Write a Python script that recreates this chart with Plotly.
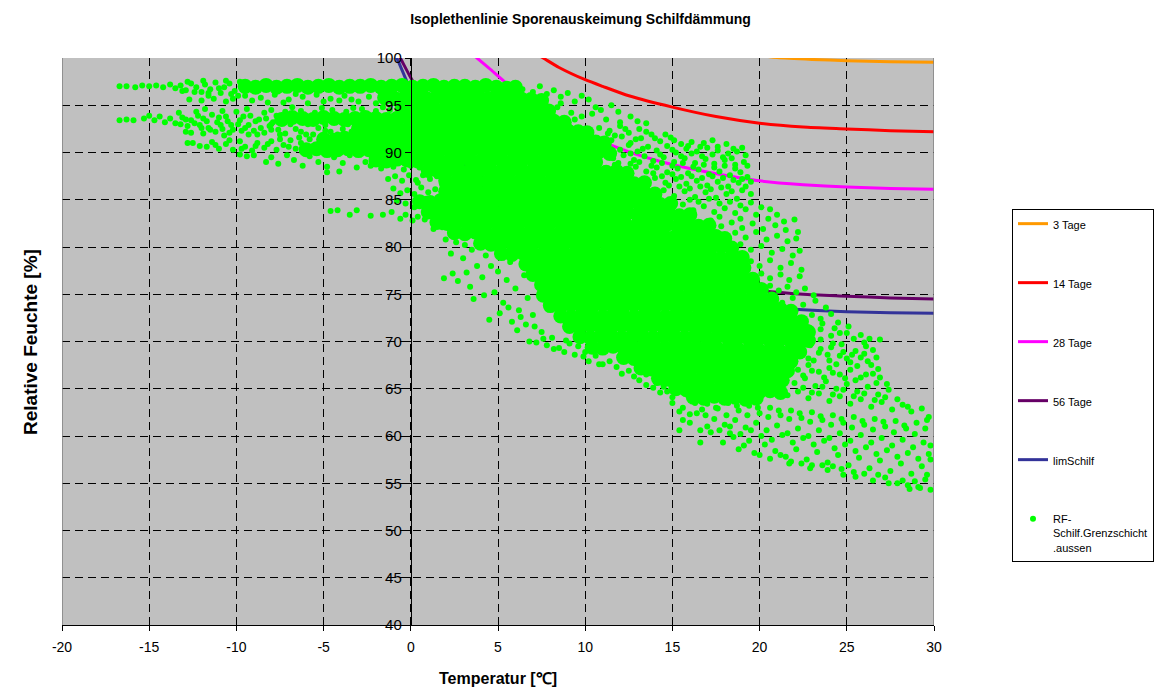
import plotly.graph_objects as go

# ---------------- isopleth curves (temperature °C, relative humidity %) ----------------
t_3d = [19.5, 21.0, 23.0, 25.0, 27.5, 30.0]
rh_3d = [100.4, 100.05, 99.85, 99.72, 99.6, 99.55]

t_14d = [7.0, 7.5, 8.5, 10.0, 11.0, 12.5, 15.0, 17.5, 20.0, 22.5, 25.0, 27.5, 30.0]
rh_14d = [100.6, 100.1, 99.0, 97.7, 97.0, 96.0, 94.8, 93.8, 93.1, 92.7, 92.5, 92.3, 92.2]

t_28d = [3.3, 3.8, 4.5, 5.5, 6.5, 7.5, 8.5, 10.0, 12.0, 14.0, 16.0, 18.0, 20.0, 22.5, 25.0, 27.5, 30.0]
rh_28d = [100.8, 100.0, 98.9, 97.3, 95.9, 94.6, 93.4, 92.0, 90.4, 89.2, 88.3, 87.6, 87.0, 86.6, 86.35, 86.2, 86.1]

t_56d = [-0.9, -0.6, 0.0, 1.0, 2.0, 3.0, 4.0, 5.0, 6.0, 7.4, 9.0, 10.9, 12.5, 14.3, 16.6, 18.5, 20.0, 22.5, 25.0, 27.5, 30.0]
rh_56d = [101.0, 100.0, 97.9, 94.7, 91.9, 89.5, 87.6, 86.0, 84.5, 82.7, 80.9, 79.5, 78.4, 77.4, 76.3, 75.8, 75.4, 75.0, 74.8, 74.6, 74.5]

t_lim = [-1.1, -0.8, 0.0, 1.0, 2.0, 3.0, 4.0, 5.0, 6.8, 9.1, 11.0, 13.0, 15.0, 16.6, 18.5, 20.0, 22.5, 25.0, 27.5, 30.0]
rh_lim = [101.0, 100.0, 96.6, 93.6, 91.0, 88.7, 86.7, 85.0, 82.2, 79.5, 77.9, 76.6, 75.5, 74.7, 74.1, 73.7, 73.35, 73.15, 73.05, 73.0]

# ---------------- measured boundary-layer values (temperature, RH) ----------------
# densely populated part of the cloud
dense_pts = [
    (-9.5,97.0),(-8.9,96.9),(-8.3,97.1),(-7.7,96.9),(-7.1,97.0),(-6.5,97.1),(-5.9,96.9),(-5.3,97.0),(-4.7,97.1),(-4.1,96.9),(-3.5,97.0),(-2.9,97.0),(-2.3,97.1),(-1.7,96.9),(-1.1,97.0),(-0.5,97.1),(0.1,96.9),(0.7,97.0),(1.3,97.1),(1.9,96.9),(2.5,97.0),(3.1,97.0),(3.7,96.9),(4.3,97.1),(4.9,96.9),(5.5,96.8),(6.0,96.9),
    (-1.5,95.8),(-0.9,95.7),(-0.3,95.9),(0.3,95.8),(0.9,95.7),(1.5,95.9),(2.1,95.8),(2.7,95.7),(3.3,95.8),(3.9,95.9),(4.5,95.7),(5.1,95.8),(5.7,95.9),(6.3,95.7),(6.9,95.6),(7.5,95.5),
    (-0.5,94.7),(0.1,94.6),(0.7,94.8),(1.3,94.7),(1.9,94.6),(2.5,94.7),(3.1,94.8),(3.7,94.6),(4.3,94.7),(4.9,94.8),(5.5,94.6),(6.1,94.7),(6.7,94.6),(7.3,94.5),(7.9,94.4),
    (-7.4,93.5),(-6.8,93.7),(-6.2,93.6),(-5.6,93.5),(-5.0,93.7),(-4.4,93.6),(-3.8,93.5),(-3.2,93.6),(-2.6,93.7),(-2.0,93.6),(-1.4,93.5),(-0.8,93.6),(-0.2,93.7),(0.4,93.6),(1.0,93.5),(1.6,93.6),(2.2,93.7),(2.8,93.6),(3.4,93.5),(4.0,93.6),(4.6,93.7),(5.2,93.5),(5.8,93.6),(6.4,93.5),(7.0,93.4),(7.6,93.5),(8.2,93.3),(8.8,93.2),
    (-3.0,92.5),(-2.4,92.4),(-1.8,92.6),(-1.2,92.5),(-0.6,92.4),(0.0,92.6),(0.6,92.5),(1.2,92.4),(1.8,92.6),(2.4,92.5),(3.0,92.4),(3.6,92.6),(4.2,92.5),(4.8,92.4),(5.4,92.6),(6.0,92.5),(6.6,92.4),(7.2,92.6),(7.8,92.5),(8.4,92.4),(9.0,92.3),(9.6,92.2),(10.1,92.1),
    (-5.0,91.4),(-4.4,91.3),(-3.8,91.5),(-3.2,91.4),(-2.6,91.3),(-2.0,91.5),(-1.4,91.4),(-0.8,91.3),(-0.2,91.5),(0.4,91.4),(1.0,91.3),(1.6,91.5),(2.2,91.4),(2.8,91.3),(3.4,91.5),(4.0,91.4),(4.6,91.3),(5.2,91.5),(5.8,91.4),(6.4,91.3),(7.0,91.5),(7.6,91.4),(8.2,91.3),(8.8,91.4),(9.4,91.2),(10.0,91.3),(10.6,91.1),(11.1,91.0),
    (-6.0,90.3),(-5.4,90.4),(-4.8,90.2),(-4.2,90.3),(-3.6,90.4),(-3.0,90.2),(-2.4,90.3),(-1.8,90.4),(-1.2,90.2),(-0.6,90.3),(0.0,90.4),(0.6,90.2),(1.2,90.3),(1.8,90.4),(2.4,90.2),(3.0,90.3),(3.6,90.4),(4.2,90.2),(4.8,90.3),(5.4,90.4),(6.0,90.2),(6.6,90.3),(7.2,90.4),(7.8,90.2),(8.4,90.3),(9.0,90.1),(9.6,90.2),(10.2,90.0),(10.8,90.1),(11.4,89.9),
    (-2.0,89.2),(-1.4,89.1),(-0.8,89.3),(-0.2,89.2),(0.4,89.1),(1.0,89.3),(1.6,89.2),(2.2,89.1),(2.8,89.3),(3.4,89.2),(4.0,89.1),(4.6,89.3),(5.2,89.2),(5.8,89.1),(6.4,89.3),(7.0,89.2),(7.6,89.1),(8.2,89.2),(8.8,89.0),(9.4,89.1),(10.0,88.9),(10.6,89.0),
    (1.0,88.1),(1.6,88.0),(2.2,88.2),(2.8,88.1),(3.4,88.0),(4.0,88.2),(4.6,88.1),(5.2,88.0),(5.8,88.2),(6.4,88.1),(7.0,88.0),(7.6,88.2),(8.2,88.1),(8.8,87.9),(9.4,88.0),(10.0,87.8),(10.6,88.0),(11.2,87.9),(11.8,88.0),(12.4,87.8),
    (2.0,87.0),(2.6,86.9),(3.2,87.1),(3.8,87.0),(4.4,86.9),(5.0,87.1),(5.6,87.0),(6.2,86.9),(6.8,87.1),(7.4,87.0),(8.0,86.9),(8.6,87.0),(9.2,86.8),(9.8,86.9),(10.4,86.7),(11.0,86.9),(11.6,86.8),(12.2,86.9),(12.8,86.7),(13.4,86.8),
    (2.0,85.9),(2.6,85.8),(3.2,86.0),(3.8,85.9),(4.4,85.8),(5.0,86.0),(5.6,85.9),(6.2,85.8),(6.8,86.0),(7.4,85.9),(8.0,85.8),(8.6,85.9),(9.2,85.7),(9.8,85.8),(10.4,85.6),(11.0,85.8),(11.6,85.7),(12.2,85.8),(12.8,85.6),(13.4,85.7),(14.0,85.6),
    (0.5,84.8),(1.1,84.7),(1.7,84.9),(2.3,84.8),(2.9,84.7),(3.5,84.9),(4.1,84.8),(4.7,84.7),(5.3,84.9),(5.9,84.8),(6.5,84.7),(7.1,84.9),(7.7,84.8),(8.3,84.7),(8.9,84.8),(9.5,84.6),(10.1,84.7),(10.7,84.5),(11.3,84.7),(11.9,84.6),(12.5,84.7),(13.1,84.5),(13.7,84.6),(14.3,84.5),(14.9,84.6),
    (1.0,83.7),(1.6,83.6),(2.2,83.8),(2.8,83.7),(3.4,83.6),(4.0,83.8),(4.6,83.7),(5.2,83.6),(5.8,83.8),(6.4,83.7),(7.0,83.6),(7.6,83.8),(8.2,83.7),(8.8,83.6),(9.4,83.7),(10.0,83.5),(10.6,83.6),(11.2,83.4),(11.8,83.5),(12.4,83.6),(13.0,83.4),(13.6,83.5),(14.2,83.4),(14.8,83.5),(15.4,83.3),(16.0,83.4),
    (1.5,82.6),(2.1,82.5),(2.7,82.7),(3.3,82.6),(3.9,82.5),(4.5,82.7),(5.1,82.6),(5.7,82.5),(6.3,82.7),(6.9,82.6),(7.5,82.5),(8.1,82.7),(8.7,82.6),(9.3,82.5),(9.9,82.6),(10.5,82.4),(11.1,82.5),(11.7,82.3),(12.3,82.4),(12.9,82.2),(13.5,82.4),(14.1,82.3),(14.7,82.4),(15.3,82.2),(15.9,82.3),(16.5,82.2),(17.1,82.3),
    (2.5,81.5),(3.1,81.4),(3.7,81.6),(4.3,81.5),(4.9,81.4),(5.5,81.6),(6.1,81.5),(6.7,81.4),(7.3,81.6),(7.9,81.5),(8.5,81.4),(9.1,81.6),(9.7,81.5),(10.3,81.4),(10.9,81.5),(11.5,81.3),(12.1,81.4),(12.7,81.2),(13.3,81.3),(13.9,81.1),(14.5,81.2),(15.1,81.0),(15.7,81.1),(16.3,81.2),(16.9,81.0),(17.5,81.1),(18.0,80.9),
    (4.0,80.4),(4.6,80.3),(5.2,80.5),(5.8,80.4),(6.4,80.3),(7.0,80.5),(7.6,80.4),(8.2,80.3),(8.8,80.5),(9.4,80.4),(10.0,80.3),(10.6,80.5),(11.2,80.4),(11.8,80.3),(12.4,80.4),(13.0,80.2),(13.6,80.3),(14.2,80.1),(14.8,80.2),(15.4,80.0),(16.0,80.1),(16.6,79.9),(17.2,80.0),(17.8,80.1),(18.4,79.9),
    (5.2,79.3),(5.8,79.2),(6.4,79.4),(7.0,79.3),(7.6,79.2),(8.2,79.4),(8.8,79.3),(9.4,79.2),(10.0,79.4),(10.6,79.3),(11.2,79.2),(11.8,79.4),(12.4,79.3),(13.0,79.2),(13.6,79.3),(14.2,79.1),(14.8,79.2),(15.4,79.0),(16.0,79.1),(16.6,78.9),(17.2,79.0),(17.8,78.8),(18.4,79.0),(19.0,78.9),
    (6.6,78.2),(7.2,78.1),(7.8,78.3),(8.4,78.2),(9.0,78.1),(9.6,78.3),(10.2,78.2),(10.8,78.1),(11.4,78.3),(12.0,78.2),(12.6,78.1),(13.2,78.3),(13.8,78.2),(14.4,78.1),(15.0,78.2),(15.6,78.0),(16.2,78.1),(16.8,77.9),(17.4,78.0),(18.0,77.8),(18.5,77.9),(19.1,77.8),
    (7.0,77.1),(7.6,77.0),(8.2,77.2),(8.8,77.1),(9.4,77.0),(10.0,77.2),(10.6,77.1),(11.2,77.0),(11.8,77.2),(12.4,77.1),(13.0,77.0),(13.6,77.2),(14.2,77.1),(14.8,77.0),(15.4,77.1),(16.0,76.9),(16.6,77.0),(17.2,76.8),(17.8,76.9),(18.4,76.7),(19.0,76.8),(19.6,76.6),
    (7.5,76.0),(8.1,75.9),(8.7,76.1),(9.3,76.0),(9.9,75.9),(10.5,76.1),(11.1,76.0),(11.7,75.9),(12.3,76.1),(12.9,76.0),(13.5,75.9),(14.1,76.1),(14.7,76.0),(15.3,75.9),(15.9,76.0),(16.5,75.8),(17.1,75.9),(17.7,75.7),(18.3,75.8),(18.9,75.6),(19.5,75.7),(20.1,75.5),
    (7.6,74.9),(8.2,74.8),(8.8,75.0),(9.4,74.9),(10.0,74.8),(10.6,75.0),(11.2,74.9),(11.8,74.8),(12.4,75.0),(13.0,74.9),(13.6,74.8),(14.2,75.0),(14.8,74.9),(15.4,74.8),(16.0,74.9),(16.6,74.7),(17.2,74.8),(17.8,74.6),(18.4,74.7),(19.0,74.5),(19.6,74.6),(20.1,74.4),(20.7,74.5),
    (8.0,73.8),(8.6,73.7),(9.2,73.9),(9.8,73.8),(10.4,73.7),(11.0,73.9),(11.6,73.8),(12.2,73.7),(12.8,73.9),(13.4,73.8),(14.0,73.7),(14.6,73.9),(15.2,73.8),(15.8,73.7),(16.4,73.8),(17.0,73.6),(17.6,73.7),(18.2,73.5),(18.8,73.6),(19.4,73.4),(20.0,73.5),(20.6,73.3),(21.2,73.4),(21.8,73.2),
    (8.6,72.7),(9.2,72.6),(9.8,72.8),(10.4,72.7),(11.0,72.6),(11.6,72.8),(12.2,72.7),(12.8,72.6),(13.4,72.8),(14.0,72.7),(14.6,72.6),(15.2,72.8),(15.8,72.7),(16.4,72.6),(17.0,72.7),(17.6,72.5),(18.2,72.6),(18.8,72.4),(19.4,72.5),(20.0,72.3),(20.6,72.4),(21.2,72.2),(21.8,72.3),(22.4,72.1),
    (9.1,71.6),(9.7,71.5),(10.3,71.7),(10.9,71.6),(11.5,71.5),(12.1,71.7),(12.7,71.6),(13.3,71.5),(13.9,71.7),(14.5,71.6),(15.1,71.5),(15.7,71.7),(16.3,71.6),(16.9,71.5),(17.5,71.6),(18.1,71.4),(18.7,71.5),(19.3,71.3),(19.9,71.4),(20.5,71.2),(21.1,71.3),(21.7,71.1),(22.3,71.2),(22.8,71.0),
    (9.7,70.5),(10.3,70.4),(10.9,70.6),(11.5,70.5),(12.1,70.4),(12.7,70.6),(13.3,70.5),(13.9,70.4),(14.5,70.6),(15.1,70.5),(15.7,70.4),(16.3,70.6),(16.9,70.5),(17.5,70.4),(18.1,70.5),(18.7,70.3),(19.3,70.4),(19.9,70.2),(20.5,70.3),(21.1,70.1),(21.7,70.2),(22.3,70.0),(22.8,70.1),
    (10.4,69.4),(11.0,69.3),(11.6,69.5),(12.2,69.4),(12.8,69.3),(13.4,69.5),(14.0,69.4),(14.6,69.3),(15.2,69.5),(15.8,69.4),(16.4,69.3),(17.0,69.4),(17.6,69.2),(18.2,69.3),(18.8,69.1),(19.4,69.2),(20.0,69.0),(20.6,69.1),(21.2,68.9),(21.8,69.0),(22.3,68.9),
    (12.2,68.3),(12.8,68.2),(13.4,68.4),(14.0,68.3),(14.6,68.2),(15.2,68.4),(15.8,68.3),(16.4,68.2),(17.0,68.3),(17.6,68.1),(18.2,68.2),(18.8,68.0),(19.4,68.1),(20.0,67.9),(20.6,68.0),(21.2,67.8),(21.8,67.9),
    (13.2,67.2),(13.8,67.1),(14.4,67.3),(15.0,67.2),(15.6,67.1),(16.2,67.3),(16.8,67.2),(17.4,67.1),(18.0,67.2),(18.6,67.0),(19.2,67.1),(19.8,66.9),(20.4,67.0),(21.0,66.8),(21.6,66.9),
    (14.2,66.1),(14.8,66.0),(15.4,66.2),(16.0,66.1),(16.6,66.0),(17.2,66.2),(17.8,66.1),(18.4,66.0),(19.0,66.1),(19.6,65.9),(20.2,66.0),(20.7,65.8),(21.3,65.9),
    (15.2,65.0),(15.8,64.9),(16.4,65.1),(17.0,65.0),(17.6,64.9),(18.2,65.0),(18.8,64.8),(19.4,64.9),(20.0,64.7),(20.6,64.8),(21.2,64.6),
    (16.2,64.1),(16.8,64.0),(17.4,64.2),(18.0,64.0),(18.6,64.1),(19.2,63.9),(19.8,64.0),
]

# frost period: long horizontal streaks at high humidity
cold_pts = [
    (-16.7,97.0),(-16.3,97.0),(-15.8,96.9),(-15.4,97.1),(-15.0,97.0),(-14.6,97.1),(-14.2,96.9),(-13.8,97.2),(-13.5,96.8),(-13.2,97.1),(-12.9,96.6),(-12.6,97.3),(-12.3,96.9),(-12.0,96.4),(-11.8,97.2),(-11.5,96.7),(-11.2,97.4),(-10.9,96.3),(-10.7,96.9),(-10.4,97.3),(-10.1,96.5),(-9.9,96.0),
    (-13.1,96.5),(-12.8,97.5),(-12.4,96.4),(-11.9,97.6),(-11.6,96.3),(-11.0,96.8),(-10.6,97.6),(-10.3,96.2),(-9.8,97.5),
    (-12.7,95.6),(-12.0,95.5),(-11.3,95.7),(-10.6,95.4),(-9.5,96.0),(-8.6,95.8),(-7.8,96.1),(-7.0,95.6),(-6.2,95.9),(-5.4,96.1),(-4.6,95.7),(-3.8,96.0),(-3.0,95.4),(-2.4,95.9),(-8.2,95.3),(-5.9,95.2),
    (-11.6,96.0),(-10.2,95.7),(-9.1,95.5),(-7.3,95.3),(-6.6,96.2),(-5.0,95.4),(-4.1,95.5),(-3.4,95.6),(-2.0,95.2),
    (-16.7,93.4),(-16.3,93.5),(-15.9,93.4),(-15.3,93.6),(-15.0,93.9),(-14.7,93.4),(-14.4,93.8),(-14.1,93.2),(-13.8,93.6),(-13.5,93.1),(-13.3,94.2),(-13.1,93.7),(-12.8,92.8),(-12.6,93.4),(-12.3,94.3),(-12.1,92.9),(-11.9,93.6),(-11.6,92.6),(-11.4,94.0),(-11.1,93.2),(-10.8,92.5),(-10.6,93.8),(-10.3,92.9),(-10.0,94.3),(-9.8,93.4),(-9.5,92.6),(-9.2,93.9),(-9.0,92.3),(-8.7,93.5),(-8.4,94.2),(-8.1,92.8),(-7.9,93.2),(-7.6,92.4),
    (-13.2,93.0),(-12.9,93.5),(-12.4,93.1),(-12.2,93.9),(-11.7,93.3),(-11.5,92.4),(-11.0,93.7),(-10.9,92.9),(-10.5,93.3),(-10.2,92.4),(-9.9,93.0),(-9.6,93.8),(-9.3,92.9),(-8.9,93.3),(-8.6,92.6),(-8.3,93.6),(-8.0,93.0),(-7.7,93.9),
    (-12.9,92.2),(-11.9,92.0),(-10.4,92.1),(-9.3,91.9),(-8.4,92.1),(-7.2,92.0),(-6.6,92.5),(-6.0,91.9),(-5.3,92.6),(-4.6,92.2),(-3.9,92.5),(-6.9,93.0),(-5.9,93.0),(-4.9,92.9),(-3.6,93.0),
    (-12.6,92.1),(-12.0,92.6),(-11.2,92.2),(-10.7,91.8),(-9.7,92.3),(-8.8,91.9),(-8.0,92.4),(-7.5,91.9),(-6.3,92.2),(-5.6,91.9),(-4.9,92.3),(-4.2,91.9),(-3.4,92.2),
    (-7.2,94.3),(-6.3,94.4),(-5.5,94.2),(-4.5,94.5),(-3.7,94.3),(-2.8,94.6),(-2.0,94.4),(-1.2,94.5),
    (-11.8,94.6),(-10.8,94.4),(-9.4,94.6),(-8.0,94.5),(-6.8,94.8),(-5.1,94.7),(-3.3,94.7),(-1.6,94.8),
    (-12.8,91.0),(-12.5,91.0),(-11.7,90.6),(-11.4,91.1),(-11.0,90.4),(-10.6,90.9),(-10.2,90.3),(-9.8,91.2),(-9.5,90.6),(-9.1,90.2),(-8.8,91.0),(-8.4,90.5),(-8.0,91.2),(-7.7,90.3),(-7.3,90.8),(-6.9,91.3),(-6.6,90.4),(-6.3,91.0),(-5.8,91.4),
    (-12.1,90.7),(-11.2,90.8),(-10.4,91.3),(-9.7,90.4),(-8.9,90.7),(-8.2,90.9),(-7.5,91.4),(-7.0,90.6),(-6.4,91.6),(-5.7,90.6),
    (-9.8,89.8),(-9.4,89.6),(-9.0,89.7),(-8.3,89.0),(-8.0,89.5),(-7.6,88.8),(-7.1,89.7),(-6.7,89.2),(-6.2,88.6),(-5.8,89.6),(-5.3,89.0),(-4.8,88.5),(-4.4,89.5),(-3.9,88.9),(-3.5,89.7),(-3.1,88.4),(-2.6,89.0),(-2.3,88.6),(-1.7,88.3),(-1.0,88.5),(-0.4,88.2),
    (-4.8,87.9),(-4.1,88.0),(-1.3,87.2),(-0.9,87.5),(-0.5,87.0),(-0.1,87.6),(0.3,87.1),(0.7,87.6),(1.1,87.2),(1.5,87.5),
    (0.0,88.6),(0.5,88.4),(1.2,88.7),(1.8,86.6),(0.4,86.8),(1.6,85.3),(0.9,85.1),(-0.3,84.6),(0.2,84.2),(-0.8,84.9),
    (-1.0,86.2),(-0.6,85.7),(-0.2,86.0),(0.2,85.6),(0.6,86.3),(1.0,85.8),(1.4,86.1),
    (-4.6,83.8),(-4.2,83.9),(-3.5,83.4),(-3.1,83.9),(-2.3,83.3),(-1.6,83.4),(-1.1,83.7),(-0.6,83.0),(-0.3,83.4),(0.1,82.8),(0.4,83.2),(0.8,82.9),
]

# lower-left fringe of the main band
fringe_pts = [
    (0.9,84.2),(1.3,81.9),(1.8,82.1),(2.0,80.8),(2.6,80.5),(3.1,80.2),(3.5,79.7),(2.3,79.3),(3.0,78.8),(1.9,76.7),(2.4,77.2),(2.7,76.4),(3.2,77.3),(3.4,75.8),(3.8,78.0),(4.1,76.8),(4.3,79.1),(4.6,78.0),(4.8,75.2),(5.0,77.4),(5.3,74.1),(5.5,76.5),(5.7,78.4),(6.0,75.6),(6.2,73.3),(6.5,77.0),(6.7,74.6),
    (3.6,74.5),(4.2,74.9),(5.6,73.6),(6.3,72.6),(7.1,71.6),(7.6,70.3),(8.2,69.2),(8.9,70.1),(9.6,69.5),(10.0,68.9),(10.8,67.6),(12.8,66.3),(13.5,66.5),(14.1,65.6),(14.7,64.7),
    (4.5,72.3),(5.1,73.0),(5.8,72.1),(6.1,71.2),(6.6,71.8),(6.8,70.0),(7.0,72.8),(7.2,69.9),(7.5,71.0),(7.8,69.6),(8.1,70.4),(8.5,69.3),(8.8,68.9),(9.1,69.8),(9.4,68.6),(9.9,68.4),(10.2,67.9),(10.6,68.5),(11.0,67.6),(11.4,67.9),(11.8,67.3),(12.1,66.6),(12.5,66.9),(13.1,65.9),(13.5,65.4),(13.9,65.1),(14.5,65.2),(14.3,64.6),(15.0,64.1),(15.0,63.5),(15.4,62.6),(15.6,61.7),(15.4,60.6),(16.0,61.4),(16.6,60.6),(16.6,59.3),(16.4,62.4),(17.0,61.0),
]

# spring / autumn: humid values reaching above the 28-day curve
upper_pts = [
    (6.4,96.7),(7.0,96.4),(7.4,97.0),(7.8,96.2),(8.2,96.6),(8.6,95.9),(9.0,96.3),(9.4,95.4),(9.8,96.0),(10.2,95.6),(10.6,94.8),(10.9,94.5),(11.5,95.0),(11.9,94.3),(8.4,94.8),(9.2,94.2),(9.8,93.8),(10.4,94.1),(11.2,93.5),(12.0,93.2),(12.6,93.8),(13.0,93.3),(13.5,93.1),(8.6,95.2),(9.4,93.5),
    (10.8,92.6),(11.4,92.3),(12.0,92.8),(12.5,92.1),(13.1,92.5),(11.7,91.8),
    (11.3,92.0),(12.3,92.5),(12.9,91.4),(13.5,92.2),(14.0,91.5),(14.6,91.9),(15.1,91.3),(15.9,90.7),(16.8,91.0),(17.6,90.6),(18.5,90.4),
    (11.5,91.3),(12.1,91.7),(12.6,91.0),(13.2,91.5),(13.8,91.9),(14.3,91.2),(14.9,91.6),(15.5,90.9),(16.1,91.1),(16.6,90.6),(17.3,91.3),(18.1,90.9),(19.0,90.5),
    (12.0,90.3),(12.5,90.8),(13.0,90.1),(13.6,90.6),(14.1,90.2),(14.7,90.7),(15.2,90.0),(15.8,90.4),(16.4,90.1),(17.0,90.5),(17.6,90.2),(18.2,89.9),(18.7,90.1),
    (12.6,89.9),(13.3,90.4),(14.3,89.8),(15.0,90.3),(15.5,89.6),(16.1,89.9),(16.7,89.6),(17.3,89.8),(17.9,89.5),(18.4,89.4),(19.2,89.7),
    (11.6,89.4),(12.2,89.7),(12.8,89.2),(13.4,89.6),(13.9,89.1),(14.5,89.5),(15.1,89.0),(15.7,89.4),(16.3,88.9),(16.9,89.3),(17.4,88.8),(18.0,89.2),(18.6,88.7),(19.1,89.0),
    (11.9,88.9),(12.6,88.8),(13.1,89.0),(13.8,88.6),(14.4,88.9),(15.0,88.6),(15.6,88.9),(16.2,88.5),(16.8,88.7),(17.4,88.4),(18.0,88.6),(18.6,88.3),(19.3,88.6),
    (11.1,88.3),(11.7,88.7),(12.3,88.1),(12.9,88.5),(13.5,88.0),(14.1,88.4),(14.7,87.9),(15.3,88.3),(15.9,87.8),(16.5,88.2),(17.1,87.7),(17.7,88.0),(18.3,87.6),(18.9,87.9),(19.3,87.4),
    (13.9,87.8),(14.4,87.5),(15.0,87.7),(15.5,87.4),(16.1,87.5),(16.7,87.3),(17.3,87.5),(17.9,87.3),(18.5,87.1),(19.0,87.2),(19.5,86.9),
    (14.0,87.3),(14.6,86.8),(15.2,87.2),(15.8,86.7),(16.4,87.0),(17.0,86.5),(17.6,86.9),(18.2,86.4),(18.8,86.8),(19.2,86.4),
    (14.8,86.5),(15.4,86.4),(16.0,86.2),(16.6,86.4),(17.2,86.1),(17.8,86.3),(18.4,85.9),(19.0,86.0),(19.5,85.6),
    (14.5,86.0),(15.1,85.4),(15.7,85.9),(16.3,85.3),(16.9,85.8),(17.5,85.2),(18.1,85.6),(18.7,85.1),
    (15.6,84.5),(16.2,83.9),(16.8,84.3),(17.4,83.7),(18.0,84.1),(18.6,83.6),(19.2,84.0),(19.8,83.4),(20.6,84.0),
    (16.0,85.0),(16.5,84.8),(17.1,85.1),(17.7,84.6),(18.3,84.8),(18.9,84.4),(19.5,84.7),(20.1,84.2),(20.5,83.0),(21.0,83.4),(21.4,82.7),(22.0,82.9),
    (16.6,82.4),(17.2,82.8),(17.8,82.2),(18.4,82.6),(19.0,82.0),(19.6,82.5),(20.2,81.9),(20.9,82.3),(21.5,81.8),(22.2,81.6),(17.7,83.2),(18.9,83.0),
]

# summer: warm, drier values
warm_pts = [
    (18.6,81.5),(19.2,81.0),(19.8,81.6),(20.4,80.8),(21.0,81.2),(21.6,80.6),(22.1,80.9),(18.9,80.3),(19.5,79.7),(20.1,80.1),(20.7,79.4),(21.3,79.8),(21.9,79.1),(22.3,79.6),
    (19.5,78.5),(20.0,78.0),(20.6,78.6),(21.2,77.8),(21.8,78.3),(22.4,77.6),(20.1,77.2),(20.6,76.7),(21.2,77.1),(21.7,76.5),(22.3,76.9),(20.6,75.9),(21.1,75.4),(21.6,75.8),(22.1,75.2),(22.6,75.6),(23.1,74.9),
    (21.3,74.1),(21.9,74.6),(22.5,73.9),(23.2,74.3),(23.8,73.6),(23.0,72.8),(23.5,72.4),(24.1,72.9),(24.5,72.0),(25.1,71.6),(24.6,70.9),(25.8,70.7),(26.3,70.3),(26.9,70.2),(23.5,71.3),(24.1,70.6),
    (22.8,71.5),(23.6,71.9),(24.3,71.4),(25.4,70.3),(25.0,70.9),(26.0,69.9),(26.5,69.1),(23.5,70.2),(24.2,69.8),(24.8,68.9),(25.3,68.6),(26.0,68.7),
    (22.9,69.6),(23.5,69.2),(24.1,69.4),(24.7,69.7),(25.5,69.0),(26.1,69.5),(26.7,68.3),(22.8,68.2),(23.4,68.8),(24.0,68.0),(24.6,68.5),(25.2,67.8),(25.8,68.3),(26.4,67.5),
    (22.2,67.0),(22.8,67.5),(23.4,66.8),(24.0,67.2),(24.6,66.5),(25.2,67.0),(25.8,66.2),(26.5,66.6),(26.9,66.2),(23.1,68.0),(23.9,68.6),(24.4,67.6),(25.0,68.2),(25.6,67.4),(26.2,67.9),(26.8,67.1),
    (22.0,65.6),(22.6,66.1),(23.2,65.3),(23.8,65.8),(24.4,65.0),(25.0,65.5),(25.6,64.7),(26.2,65.2),(26.8,64.4),(27.4,64.9),(22.5,66.4),(23.0,66.9),(23.7,66.2),(24.2,66.7),(24.9,66.1),(25.5,65.9),(26.1,66.5),(26.7,65.6),(27.3,65.5),
    (21.6,64.3),(22.2,64.7),(22.8,64.0),(23.4,64.5),(24.0,63.7),(24.6,64.2),(25.2,63.4),(25.8,63.9),(26.4,63.1),(27.0,63.6),(27.6,62.8),(28.2,63.3),(28.5,63.1),
    (22.5,65.1),(23.0,64.6),(23.6,65.2),(24.2,64.4),(24.8,64.9),(25.4,64.2),(26.0,64.5),(26.6,63.8),(27.2,64.1),(27.9,63.9),(28.7,62.6),(29.3,62.9),(29.7,62.0),
    (15.6,63.0),(16.0,62.3),(16.7,62.8),(17.2,60.4),(18.3,60.3),
    (17.0,63.4),(17.6,62.9),(18.2,63.5),(18.8,62.7),(19.4,63.2),(20.0,62.4),(20.6,63.0),(21.2,62.2),(21.8,62.7),(22.4,61.9),(23.0,62.5),(23.6,61.7),(24.2,62.2),(24.8,61.4),(25.4,62.0),(26.0,61.2),(26.6,61.8),(27.2,61.0),(27.8,61.6),(28.4,60.8),(29.0,61.4),(29.6,61.7),
    (16.3,63.5),(16.9,62.2),(17.5,63.0),(18.1,62.2),(18.7,63.2),(19.3,62.2),(19.9,63.0),(20.5,62.0),(21.1,62.7),(21.7,61.8),(22.3,62.4),(22.9,61.5),(23.5,62.1),(24.1,61.2),(24.7,61.8),(25.3,60.9),(25.9,61.6),(26.5,60.7),(27.1,61.5),(27.7,60.4),(28.3,61.1),(28.9,60.2),(29.5,60.8),
    (17.4,61.8),(18.0,61.2),(18.6,61.7),(19.2,60.9),(19.8,61.4),(20.4,60.6),(21.0,61.1),(21.6,60.3),(22.2,60.8),(22.8,60.0),(23.4,60.6),(24.0,59.8),(24.6,60.3),(25.2,59.5),(25.8,60.1),(26.4,59.3),(27.0,59.8),(27.6,59.0),(28.2,59.6),(28.8,58.8),(29.4,59.3),(29.8,59.0),
    (17.7,60.6),(18.3,61.0),(18.9,60.2),(19.5,60.6),(20.1,60.0),(20.7,59.6),(21.3,60.1),(21.9,59.3),(22.5,59.8),(23.1,59.1),(23.7,59.5),(24.3,58.7),(24.9,59.1),(25.5,58.4),(26.1,58.8),(26.7,58.1),(27.3,58.5),(27.9,57.8),(28.5,58.2),(29.1,57.6),(29.7,58.1),
    (17.9,59.3),(18.5,59.9),(19.1,59.0),(19.7,58.2),(20.3,59.1),(20.9,58.4),(21.5,57.8),(22.1,58.6),(22.7,57.5),(23.3,58.3),(23.9,57.2),(24.5,58.0),(25.1,56.9),(25.7,57.7),(26.3,56.6),(26.9,57.4),(27.5,56.3),(28.1,57.1),(28.7,56.0),(29.3,56.8),(29.8,57.5),
    (18.8,58.6),(19.4,59.5),(20.0,58.0),(20.6,57.6),(21.2,58.0),(21.8,57.3),(22.4,57.1),(23.0,56.9),(23.6,56.9),(24.2,56.8),(24.7,56.5),(25.4,56.2),(26.0,56.0),(26.8,55.9),(27.4,55.0),(28.2,55.3),(28.9,55.2),(29.6,55.9),(29.2,54.5),(28.6,54.4),
    (21.7,57.1),(22.9,56.6),(23.9,56.4),(24.8,55.9),(25.5,55.7),(26.5,55.3),(27.2,55.6),(27.9,55.0),(28.5,54.8),(29.1,54.6),(29.8,54.3),(29.5,55.4),
]

x_ticks = [-20, -15, -10, -5, 0, 5, 10, 15, 20, 25, 30]
x_labels = ["-20", "-15", "-10", "-5", "0", "5", "10", "15", "20", "25", "30"]
y_ticks = [40, 45, 50, 55, 60, 65, 70, 75, 80, 85, 90, 95, 100]
y_labels = ["40", "45", "50", "55", "60", "65", "70", "75", "80", "85", "90", "95", "100"]

FONT = "Liberation Sans, Arial, sans-serif"
GREEN = "#00FF00"

sparse_pts = cold_pts + fringe_pts + upper_pts + warm_pts

fig = go.Figure()

curves = [
    ("3 Tage", t_3d, rh_3d, "#FF9900"),
    ("14 Tage", t_14d, rh_14d, "#FF0000"),
    ("28 Tage", t_28d, rh_28d, "#FF00FF"),
    ("56 Tage", t_56d, rh_56d, "#660066"),
    ("limSchilf", t_lim, rh_lim, "#333399"),
]
for name, xs, ys, col in curves:
    fig.add_trace(go.Scatter(
        x=xs, y=ys, mode="lines", name=name, legendgroup=name,
        line=dict(color=col, width=3, shape="spline", smoothing=0.6),
    ))

fig.add_trace(go.Scatter(
    x=[p[0] for p in dense_pts], y=[p[1] for p in dense_pts],
    mode="markers", showlegend=False, hoverinfo="skip",
    marker=dict(size=15, color=GREEN, line=dict(width=0)),
))
fig.add_trace(go.Scatter(
    x=[p[0] for p in sparse_pts], y=[p[1] for p in sparse_pts],
    mode="markers", name="RF-<br>Schilf.Grenzschicht<br>.aussen", legendgroup="rf",
    marker=dict(size=6, color=GREEN, line=dict(width=0)),
))

# grey frame on the left and right edge of the plot area
for xv in (-20, 30):
    fig.add_shape(type="line", xref="x", yref="paper", x0=xv, x1=xv, y0=0, y1=1,
                  line=dict(color="#808080", width=1.5), layer="above")

fig.add_annotation(
    text="<b>Relative Feuchte [%]</b>", xref="paper", yref="paper",
    x=-0.0505, y=0.5, textangle=-90, showarrow=False,
    font=dict(family=FONT, size=19, color="black"),
)

fig.update_layout(
    width=1161, height=688,
    margin=dict(l=62, r=227, t=58, b=63),
    paper_bgcolor="white", plot_bgcolor="#C0C0C0",
    font=dict(family=FONT, size=13, color="black"),
    title=dict(text="<b>Isoplethenlinie Sporenauskeimung Schilfdämmung</b>",
               x=0.5, xref="container", y=1 - 19 / 688, yref="container",
               xanchor="center", yanchor="middle",
               font=dict(family=FONT, size=14, color="black")),
    showlegend=True,
    legend=dict(
        xref="container", yref="container", x=1012 / 1161, y=1 - 209 / 688,
        xanchor="left", yanchor="top", maxheight=450,
        bgcolor="white", bordercolor="black", borderwidth=1,
        font=dict(family=FONT, size=11, color="black"),
        tracegroupgap=40, valign="top",
    ),
    xaxis=dict(
        range=[-20, 30], tickvals=x_ticks, ticktext=x_labels, domain=[0, 1],
        automargin=False,
        showgrid=True, gridcolor="black", gridwidth=1, griddash="8px,5px",
        zeroline=False, showline=True, linecolor="black", linewidth=1,
        ticks="outside", ticklen=5, tickcolor="black", ticklabelstandoff=4,
        tickfont=dict(family=FONT, size=14),
        title=dict(text="<b>Temperatur [℃]</b>", standoff=19,
                   font=dict(family=FONT, size=16)),
    ),
    yaxis=dict(
        range=[40, 100], tickvals=y_ticks, ticktext=y_labels, anchor="free", position=0.4,
        automargin=False,
        showgrid=True, gridcolor="black", gridwidth=1, griddash="8px,5px",
        zeroline=False, showline=True, linecolor="black", linewidth=1,
        ticks="outside", ticklen=6, tickcolor="black",
        tickfont=dict(family=FONT, size=15),
    ),
)

fig.write_html("out.html")
